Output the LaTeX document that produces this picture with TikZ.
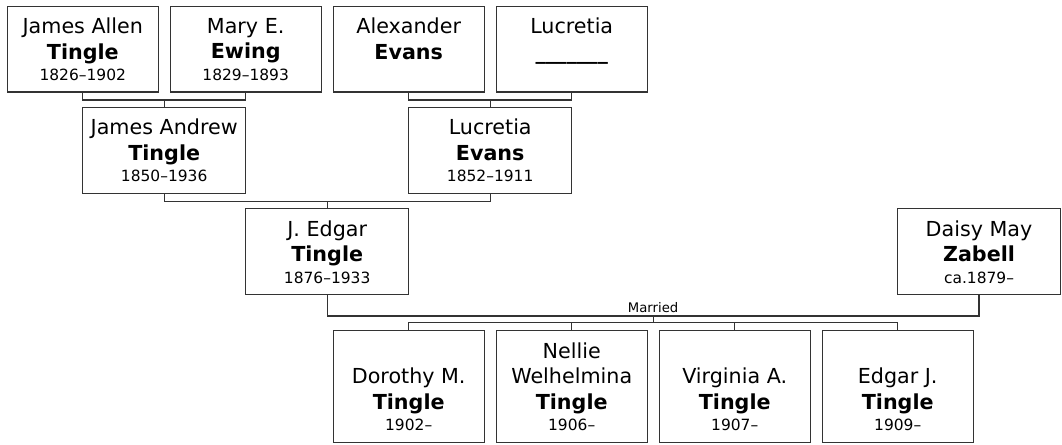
\documentclass[tikz,border=0pt]{standalone}
\usepackage{fontspec}
\setmainfont{DejaVu Sans}
\usetikzlibrary{positioning}

\newcommand{\namefont}{\fontsize{15.5}{19.3}\selectfont}
\newcommand{\datefont}{\fontsize{11.6}{14}\selectfont}
\newcommand{\pname}[3]{#1\\\textbf{#2}\\[-3.3pt]{\datefont #3}}

\begin{document}
\begin{tikzpicture}[x=0.75pt, y=-0.75pt, line join=miter]

    \tikzset{
      person/.style    = {draw=black!80, line width=0.9pt, align=center, inner sep=0pt, font=\namefont},
      narrowbox/.style = {person, minimum width=113.2pt, minimum height=64.1pt},
      widebox/.style   = {person, minimum width=122.3pt, minimum height=64.4pt},
      kidbox/.style    = {person, minimum width=113.2pt, minimum height=84pt},
      link/.style      = {draw=black!80, line width=0.9pt}
    }

    \useasboundingbox (0,0) rectangle (1062,444);

    % grandparents
    \node[narrowbox] (jallen)  at (82.8,49.3)  {\pname{James Allen}{Tingle}{1826--1902}};
    \node[narrowbox] (mewing)  at (245.7,49.3) {\pname{Mary E.}{Ewing}{1829--1893}};
    \node[narrowbox] (aevans)  at (408.7,49.3) {\pname{Alexander}{Evans}{\phantom{1}}};
    \node[narrowbox] (lucr)    at (571.7,49.3) {\pname{Lucretia}{\_\_\_\_\_\_\_}{\phantom{1}}};

    % parents
    \node[widebox] (jandrew) at (164.2,150.2) {\pname{James Andrew}{Tingle}{1850--1936}};
    \node[widebox] (levans)  at (490.2,150.2) {\pname{Lucretia}{Evans}{1852--1911}};

    % couple
    \node[widebox] (jedgar)  at (327.2,251.8) {\pname{J. Edgar}{Tingle}{1876--1933}};
    \node[widebox] (daisy)   at (979,251.8)   {\pname{Daisy May}{Zabell}{ca.1879--}};

    % children
    \node[kidbox] (kid1) at (408.7,386.7) {\phantom{D}\\\pname{Dorothy M.}{Tingle}{1902--}};
    \node[kidbox] (kid2) at (571.7,386.7) {Nellie\\\pname{Welhelmina}{Tingle}{1906--}};
    \node[kidbox] (kid3) at (734.7,386.7) {\phantom{V}\\\pname{Virginia A.}{Tingle}{1907--}};
    \node[kidbox] (kid4) at (897.7,386.7) {\phantom{E}\\\pname{Edgar J.}{Tingle}{1909--}};

    % connectors
    \draw[link] (jallen.south) -- ++(0,7.3) coordinate (barA) -| (mewing.south);
    \draw[link] (jandrew.north) -- (jandrew.north |- barA);
    \draw[link] (aevans.south) -- ++(0,7.3) coordinate (barB) -| (lucr.south);
    \draw[link] (levans.north) -- (levans.north |- barB);

    \draw[link] (jandrew.south) -- ++(0,7.4) coordinate (barC) -| (levans.south);
    \draw[link] (jedgar.north) -- (jedgar.north |- barC);

    \draw[link] (jedgar.south) -- ++(0,20.6) -| (daisy.south)
      node[pos=0.25, above, inner sep=2pt, font=\fontsize{9.9}{12}\selectfont] (married) {Married}
      coordinate[pos=0.25] (wed);
    \draw[link] (kid1.north) -- ++(0,-8) coordinate (barD) -| (kid4.north);
    \draw[link] (wed) -- (wed |- barD);
    \foreach \k in {2,3}{
      \draw[link] (kid\k.north) -- (kid\k.north |- barD);
    }

\end{tikzpicture}
\end{document}
